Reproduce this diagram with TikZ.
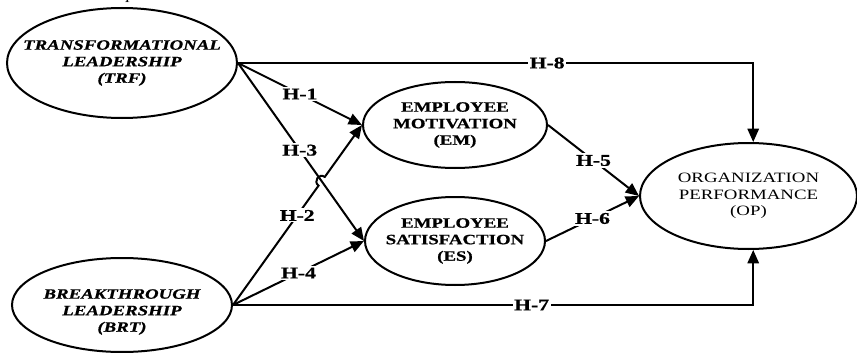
\documentclass[tikz,border=0pt]{standalone}
\usepackage{fontspec}
\setmainfont{Liberation Serif}[FakeStretch=1.32, BoldFeatures={FakeBold=0.8}, BoldItalicFeatures={FakeBold=0.8}]
\usetikzlibrary{shapes.geometric,arrows.meta,calc}
\newcommand\efont{\fontsize{10.7}{12.4}\selectfont}
\begin{document}
\begin{tikzpicture}[x=0.75pt,y=-0.75pt,
  ell/.style={draw, ellipse, line width=1.5pt, inner sep=0pt},
  tbi/.style={align=center, inner sep=0pt, font=\efont\bfseries\itshape},
  tb/.style={align=center, inner sep=0pt, font=\efont\bfseries},
  tr/.style={align=center, inner sep=0pt, font=\efont},
  conn/.style={line width=1.5pt},
  arr/.style={conn, -{Triangle[length=10pt,width=8.5pt]}},
  hl/.style={fill=white, inner sep=1.2pt, font=\fontsize{12.3}{13}\selectfont\bfseries}]
\useasboundingbox (0,0) rectangle (857,353);

% caption fragment cut at top
\node[anchor=base, inner sep=0pt, font=\efont\itshape] (capt) at (131,-0.5) {p};

% ellipses
\node[ell, minimum width=172.5pt, minimum height=82.5pt] (TRF) at (122,63) {};
\node[tbi] (TRFt) at (TRF.center) {TRANSFORMATIONAL\\LEADERSHIP\\(TRF)};

\node[ell, minimum width=165pt, minimum height=70.5pt] (BRT) at (122,305) {};
\node[tbi] (BRTt) at (122,312) {BREAKTHROUGH\\LEADERSHIP\\(BRT)};

\node[ell, minimum width=138pt, minimum height=64.5pt] (EM) at (455,125) {};
\node[tb] (EMt) at (EM.center) {EMPLOYEE\\MOTIVATION\\(EM)};

\node[ell, minimum width=135pt, minimum height=66pt] (ES) at (455,241) {};
\node[tb] (ESt) at (ES.center) {EMPLOYEE\\SATISFACTION\\(ES)};

\node[ell, minimum width=162.75pt, minimum height=79.5pt] (OP) at (748.5,196) {};
\node[tr] (OPt) at (OP.center) {ORGANIZATION\\PERFORMANCE\\(OP)};

% crossing hop of H-2 over H-3
\coordinate (X) at (intersection of BRT.east--EM.west and TRF.east--ES.west);
\coordinate (hA) at ($(X)!4pt!(BRT.east)$);
\coordinate (hB) at ($(X)!4pt!(EM.west)$);

% connectors
\draw[arr] (TRF.east) -- (EM.west) node[hl, pos=0.5] {H-1};
\draw[arr] (TRF.east) -- (ES.west) node[hl, pos=0.49] {H-3};
\draw[arr] (BRT.east) -- (hA) node[hl, pos=0.75] {H-2}
  .. controls ($(hA)!5.3pt!90:(X)$) and ($(hB)!5.3pt!-90:(X)$) .. (hB)
  -- (EM.west);
\draw[arr] (BRT.east) -- (ES.west) node[hl, pos=0.5] {H-4};
\draw[arr] (EM.east) -- (OP.west) node[hl, pos=0.5] {H-5};
\draw[arr] (ES.east) -- (OP.west) node[hl, pos=0.5] {H-6};
\draw[arr] (TRF.east) -| (OP.85) node[hl, pos=0.30] {H-8};
\draw[arr] (BRT.east) -| (OP.-85) node[hl, pos=0.287] {H-7};
\end{tikzpicture}
\end{document}
